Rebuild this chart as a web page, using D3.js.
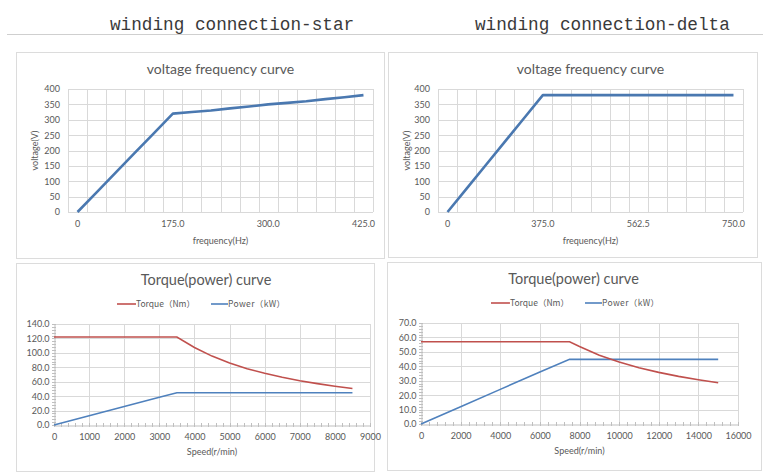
<!DOCTYPE html>
<html>
<head>
<meta charset="utf-8">
<script src="https://cdn.jsdelivr.net/npm/d3@7"></script>
<style>
body { margin: 0; background: #fff; }
text { font-family: Lato, "Open Sans", "Noto Sans CJK SC", sans-serif; fill: #595959; }
</style>
</head>
<body>
<script>
// voltage / frequency, category axis (Excel line chart)
var starFreq = ["0", "35", "70", "105", "140", "175.0", "200", "225", "250", "275", "300.0", "325", "350", "375", "400", "425.0"];
var starVolt = [0, 64, 128, 192, 256, 320, 325, 330, 337, 343, 350, 355, 360, 367, 373, 380];
var deltaFreq = ["0", "75", "150", "225", "300", "375.0", "412.5", "450", "487.5", "525", "562.5", "600", "637.5", "675", "712.5", "750.0"];
var deltaVolt = [0, 76, 152, 228, 304, 380, 380, 380, 380, 380, 380, 380, 380, 380, 380, 380];
var voltTicks = [0, 50, 100, 150, 200, 250, 300, 350, 400];

// torque / power vs speed
var starSpeed = [0, 1000, 2000, 3000, 3500, 4000, 4500, 5000, 5500, 6000, 6500, 7000, 7500, 8000, 8500];
var starTorque = [122, 122, 122, 122, 122, 107.4, 95.5, 86, 78.1, 71.6, 66.1, 61.4, 57.3, 53.7, 50.5];
var starPower = [0, 12.8, 25.6, 38.4, 44.7, 44.7, 44.7, 44.7, 44.7, 44.7, 44.7, 44.7, 44.7, 44.7, 44.7];
var starSpeedTicks = [0, 1000, 2000, 3000, 4000, 5000, 6000, 7000, 8000, 9000];
var starValTicks = [0, 20, 40, 60, 80, 100, 120, 140];

var deltaSpeed = [0, 2000, 4000, 6000, 7500, 8000, 9000, 10000, 11000, 12000, 13000, 14000, 15000];
var deltaTorque = [57, 57, 57, 57, 57, 53.7, 47.7, 43, 39, 35.8, 33, 30.7, 28.6];
var deltaPower = [0, 12, 24, 36, 44.8, 44.8, 44.8, 44.8, 44.8, 44.8, 44.8, 44.8, 44.8];
var deltaSpeedTicks = [0, 2000, 4000, 6000, 8000, 10000, 12000, 14000, 16000];
var deltaValTicks = [0, 10, 20, 30, 40, 50, 60, 70];

var gridColor = "#d9d9d9";

var svg = d3.select("body").append("svg")
    .attr("width", 763)
    .attr("height", 473);

// headers
svg.append("text").attr("x", 110).attr("y", 30)
  .style("font-family", "'Liberation Mono', 'DejaVu Sans Mono', monospace")
  .style("font-size", "17.7px").style("fill", "#3a3a3a")
  .text("winding connection-star");
svg.append("text").attr("x", 475).attr("y", 30)
  .style("font-family", "'Liberation Mono', 'DejaVu Sans Mono', monospace")
  .style("font-size", "17.7px").style("fill", "#3a3a3a")
  .text("winding connection-delta");
svg.append("line").attr("x1", 7).attr("x2", 763).attr("y1", 34.5).attr("y2", 34.5)
  .attr("stroke", "#cfcfcf");

function panel(x, y, w, h) {
  svg.append("rect").attr("x", x + 0.5).attr("y", y + 0.5).attr("width", w).attr("height", h)
    .attr("fill", "#fff").attr("stroke", "#dcdcdc");
}

// top charts
function vfChart(bx, by, bw, bh, x0, x1, yt, yb, cats, vals) {
  panel(bx, by, bw, bh);
  var g = svg.append("g");
  var x = d3.scaleBand().domain(d3.range(cats.length)).range([x0, x1]);
  var y = d3.scaleLinear().domain([0, 400]).range([yb, yt]);

  // grid
  g.selectAll(".hg").data(voltTicks).enter().append("line")
    .attr("x1", x0).attr("x2", x1)
    .attr("y1", function(d) { return Math.round(y(d)) + 0.5; })
    .attr("y2", function(d) { return Math.round(y(d)) + 0.5; })
    .attr("stroke", gridColor);
  var edges = d3.range(cats.length + 1).map(function(i) { return i < cats.length ? x(i) : x1; });
  g.selectAll(".vg").data(edges).enter().append("line")
    .attr("x1", function(d) { return Math.round(d) + 0.5; })
    .attr("x2", function(d) { return Math.round(d) + 0.5; })
    .attr("y1", yt).attr("y2", yb)
    .attr("stroke", gridColor);

  // y axis
  var ya = g.append("g").attr("transform", "translate(" + x0 + ",0)")
    .call(d3.axisLeft(y).tickValues(voltTicks).tickSize(0).tickPadding(8));
  ya.select(".domain").remove();
  ya.selectAll("text").style("font-size", "9px").style("font-family", "Lato, sans-serif").attr("fill", "#595959");

  // category labels
  var xa = g.append("g").attr("transform", "translate(0," + yb + ")")
    .call(d3.axisBottom(x).tickValues(d3.range(0, cats.length, 5))
      .tickFormat(function(i) { return cats[i]; }).tickSize(0).tickPadding(9));
  xa.select(".domain").remove();
  xa.selectAll("text").style("font-size", "9px").style("font-family", "Lato, sans-serif").attr("fill", "#595959");

  var line = d3.line()
    .x(function(d, i) { return x(i) + x.bandwidth() / 2; })
    .y(function(d) { return y(d); });
  g.append("path").datum(vals).attr("d", line)
    .attr("fill", "none").attr("stroke", "#4a78b0").attr("stroke-width", 2.6)
    .attr("stroke-linejoin", "round");

  var cx = (x0 + x1) / 2;
  g.append("text").attr("x", cx).attr("y", by + 22).attr("text-anchor", "middle")
    .style("font-size", "14px").text("voltage frequency curve");
  g.append("text").attr("x", cx).attr("y", yb + 32).attr("text-anchor", "middle")
    .style("font-size", "9px").text("frequency(Hz)");
  g.append("text").attr("transform", "translate(" + (bx + 22) + "," + ((yt + yb) / 2) + ") rotate(-90)")
    .attr("text-anchor", "middle").style("font-size", "9px").text("voltage(V)");
}

vfChart(16, 52, 368, 206, 68, 373, 89, 212, starFreq, starVolt);
vfChart(388, 52, 369, 205, 438, 743, 89, 212, deltaFreq, deltaVolt);

// bottom charts
function tpChart(bx, by, bw, bh, x0, x1, yt, yb, speeds, torque, power, xTicks, yTicks, legX) {
  panel(bx, by, bw, bh);
  var g = svg.append("g");
  var x = d3.scaleLinear().domain([0, xTicks[xTicks.length - 1]]).range([x0, x1]);
  var y = d3.scaleLinear().domain([0, yTicks[yTicks.length - 1]]).range([yb, yt]);

  g.selectAll(".hg").data(yTicks.slice(1)).enter().append("line")
    .attr("x1", x0).attr("x2", x1)
    .attr("y1", function(d) { return Math.round(y(d)) + 0.5; })
    .attr("y2", function(d) { return Math.round(y(d)) + 0.5; })
    .attr("stroke", gridColor);
  g.selectAll(".vg").data(xTicks.slice(1)).enter().append("line")
    .attr("x1", function(d) { return Math.round(x(d)) + 0.5; })
    .attr("x2", function(d) { return Math.round(x(d)) + 0.5; })
    .attr("y1", yt).attr("y2", yb)
    .attr("stroke", gridColor);

  // minor ticks, crossing the axes
  var xStep = xTicks[1] - xTicks[0], yStep = yTicks[1] - yTicks[0];
  var xMinor = d3.range(0, xTicks[xTicks.length - 1] + 1, xStep / 5);
  var yMinor = d3.range(0, yTicks[yTicks.length - 1] + 0.001, yStep / 5);
  g.selectAll(".xm").data(xMinor).enter().append("line")
    .attr("x1", function(d) { return Math.round(x(d)) + 0.5; })
    .attr("x2", function(d) { return Math.round(x(d)) + 0.5; })
    .attr("y1", yb - 2).attr("y2", yb + 2)
    .attr("stroke", "#bfbfbf");
  g.selectAll(".ym").data(yMinor).enter().append("line")
    .attr("x1", x0 - 2).attr("x2", x0 + 2)
    .attr("y1", function(d) { return Math.round(y(d)) + 0.5; })
    .attr("y2", function(d) { return Math.round(y(d)) + 0.5; })
    .attr("stroke", "#bfbfbf");

  var ya = g.append("g").attr("transform", "translate(" + (Math.round(x0) + 0.5) + ",0)")
    .call(d3.axisLeft(y).tickValues(yTicks).tickFormat(d3.format(".1f")).tickSize(0).tickPadding(5));
  ya.select(".domain").attr("stroke", "#bfbfbf");
  ya.selectAll("text").style("font-size", "9px").style("font-family", "Lato, sans-serif").attr("fill", "#595959");

  var xa = g.append("g").attr("transform", "translate(0," + (Math.round(yb) + 0.5) + ")")
    .call(d3.axisBottom(x).tickValues(xTicks).tickFormat(d3.format("d")).tickSize(0).tickPadding(8));
  xa.select(".domain").attr("stroke", "#bfbfbf");
  xa.selectAll("text").style("font-size", "9px").style("font-family", "Lato, sans-serif").attr("fill", "#595959");

  var tLine = d3.line()
    .x(function(d, i) { return x(speeds[i]); })
    .y(function(d) { return y(d); });
  g.append("path").datum(power).attr("d", tLine)
    .attr("fill", "none").attr("stroke", "#4f81bd").attr("stroke-width", 1.6);
  g.append("path").datum(torque).attr("d", tLine)
    .attr("fill", "none").attr("stroke", "#c0504d").attr("stroke-width", 1.6);

  var cx = (x0 + x1) / 2;
  g.append("text").attr("x", cx - 6).attr("y", by + 22).attr("text-anchor", "middle")
    .style("font-size", "14.5px").text("Torque(power) curve");
  g.append("text").attr("x", cx).attr("y", yb + 30).attr("text-anchor", "middle")
    .style("font-size", "9px").text("Speed(r/min)");

  // legend
  var ly = by + 41;
  g.append("line").attr("x1", legX).attr("x2", legX + 19).attr("y1", ly).attr("y2", ly)
    .attr("stroke", "#c0504d").attr("stroke-width", 1.6);
  g.append("text").attr("x", legX + 19).attr("y", ly + 3)
    .style("font-family", "'Noto Sans CJK SC', sans-serif").style("font-size", "8.5px")
    .attr("textLength", 59).attr("lengthAdjust", "spacing")
    .text("Torque（Nm）");
  g.append("line").attr("x1", legX + 94).attr("x2", legX + 111).attr("y1", ly).attr("y2", ly)
    .attr("stroke", "#4f81bd").attr("stroke-width", 1.6);
  g.append("text").attr("x", legX + 111).attr("y", ly + 3)
    .style("font-family", "'Noto Sans CJK SC', sans-serif").style("font-size", "8.5px")
    .attr("textLength", 57).attr("lengthAdjust", "spacing")
    .text("Power（kW）");
}

tpChart(16, 263, 358, 208, 54, 370, 324, 425, starSpeed, starTorque, starPower, starSpeedTicks, starValTicks, 117);
tpChart(387, 262, 374, 208, 421, 738, 323, 424, deltaSpeed, deltaTorque, deltaPower, deltaSpeedTicks, deltaValTicks, 491);
</script>
</body>
</html>
